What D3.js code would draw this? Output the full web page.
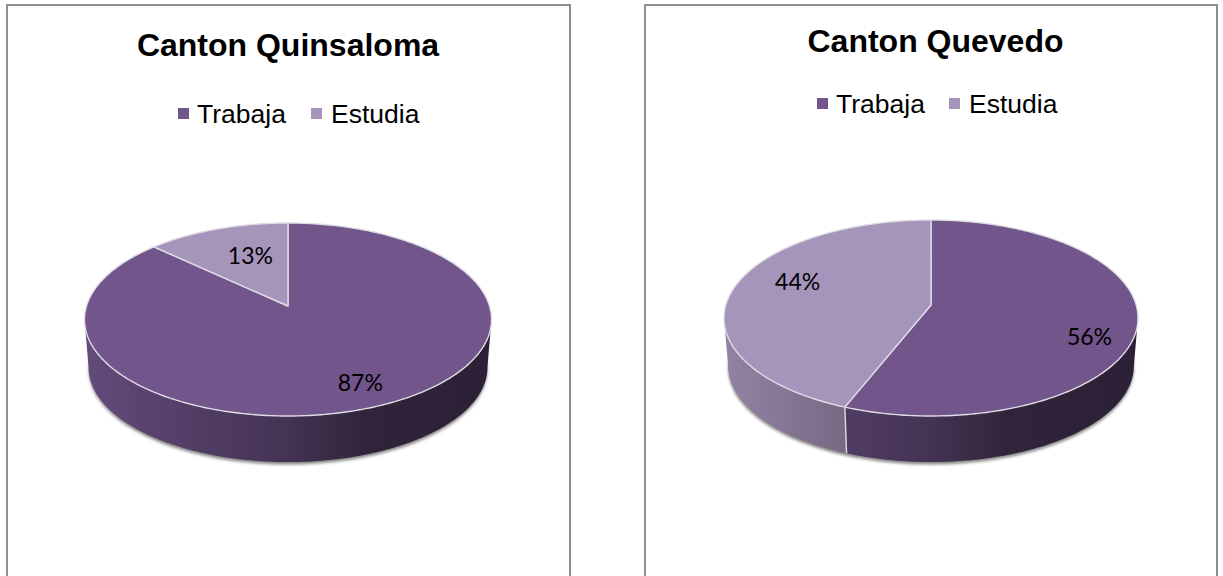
<!DOCTYPE html>
<html>
<head>
<meta charset="utf-8">
<script src="https://cdn.jsdelivr.net/npm/d3@7"></script>
<style>
html,body{margin:0;padding:0;background:#fff;overflow:hidden}
svg{display:block}
</style>
</head>
<body>
<svg id="chart" width="1223" height="576"></svg>
<script>
// Data
const categories = ["Trabaja", "Estudia"];
const cantons = ["Canton Quinsaloma", "Canton Quevedo"];
const quinsalomaValues = [87, 13];
const quevedoValues = [56, 44];
const seriesColors = ["#71558b", "#a695ba"];

// Layout (positions and styles only)
const layouts = [
  { frame:[7,5,563,590], titleX:288, titleY:56, legendY:114, markerX:[178,311], textX:[197,331],
    cx:288, cy:319.5, rx:203.5, ry:96.5, apexY:306, depth:48,
    labelShift:[[1,0],[7,-2]], labelR:[0.8,0.6] },
  { frame:[645,5,572,590], titleX:935.5, titleY:52, legendY:104, markerX:[817,949], textX:[836,969],
    cx:931, cy:318, rx:207, ry:98, apexY:305, depth:48,
    labelShift:[[-6,17],[15,-10]], labelR:[0.8,0.75] }
];
const shadeStops = [[0,.88],[.28,.72],[.5,.6],[.7,.42],[1,.38]];
const allValues = [quinsalomaValues, quevedoValues];

const svg = d3.select("#chart");
const defs = svg.append("defs");
defs.append("filter").attr("id","soft").attr("x","-10%").attr("y","-20%").attr("width","120%").attr("height","140%")
  .append("feGaussianBlur").attr("stdDeviation",1.8);

const pie = d3.pie().sort(null).startAngle(0).endAngle(2*Math.PI);
const line = d3.line().curve(d3.curveLinear);

function projector(L){
  const d = (L.cy - L.apexY)/L.ry, k = Math.sqrt(1-d*d);
  // disc automorphism: keeps the ellipse outline, moves pie centre to the apex
  return (theta, r=1, depth=0) => {
    const u = r*Math.sin(theta), v = -r*Math.cos(theta), w = 1 - d*v;
    const s = 1 - 0.02*depth/L.depth;
    return [L.cx + L.rx*s*k*u/w, L.cy + L.ry*s*(v-d)/w + depth];
  };
}
const samples = (a,b,n=Math.max(2,Math.ceil(Math.abs(b-a)*60))) => d3.range(n+1).map(i => a+(b-a)*i/n);

allValues.forEach((values,ci) => {
  const L = layouts[ci], P = projector(L);
  const g = svg.append("g");
  const arcs = pie(values);
  const d = (L.cy - L.apexY)/L.ry;
  const visA = Math.acos(-d), visB = 2*Math.PI - visA;

  // frame
  g.append("rect").attr("x",L.frame[0]).attr("y",L.frame[1]).attr("width",L.frame[2]).attr("height",L.frame[3])
    .attr("fill","#fff").attr("stroke","#8e8e8e").attr("stroke-width",2);

  // title
  g.append("text").attr("x",L.titleX).attr("y",L.titleY).attr("text-anchor","middle")
    .attr("font-family","'Liberation Sans',Arial,sans-serif").attr("font-weight","bold").attr("font-size",32)
    .attr("fill","#000").text(cantons[ci]);

  // legend
  categories.forEach((c,i) => {
    g.append("rect").attr("x",L.markerX[i]).attr("y",L.legendY-6).attr("width",11).attr("height",11).attr("fill",seriesColors[i]);
    g.append("text").attr("x",L.textX[i]).attr("y",L.legendY+9)
      .attr("font-family","'Liberation Sans',Arial,sans-serif").attr("font-size",26.5).attr("fill","#000").text(c);
  });

  // shadow below wall
  const ring = samples(0,2*Math.PI,180).map(t => P(t,1,L.depth+2.5));
  g.append("path").attr("d",line(ring)+"Z").attr("fill","#858585").attr("filter","url(#soft)");

  // walls
  arcs.forEach((a,i) => {
    const lo = Math.max(a.startAngle,visA), hi = Math.min(a.endAngle,visB);
    if (hi <= lo) return;
    const gid = `wall${ci}${i}`;
    const lg = defs.append("linearGradient").attr("id",gid).attr("gradientUnits","userSpaceOnUse")
      .attr("x1",L.cx-L.rx).attr("x2",L.cx+L.rx).attr("y1",0).attr("y2",0);
    const base = d3.rgb(seriesColors[i]);
    shadeStops.forEach(([o,s]) => lg.append("stop").attr("offset",o)
      .attr("stop-color",d3.rgb(base.r*s,base.g*s,base.b*s).formatHex()));
    const ts = samples(lo,hi);
    const pts = ts.map(t => P(t)).concat(ts.slice().reverse().map(t => P(t,1,L.depth)));
    g.append("path").attr("d",line(pts)+"Z").attr("fill",`url(#${gid})`);
  });
  // dividers visible on the wall
  arcs.forEach(a => {
    if (a.startAngle > visA && a.startAngle < visB) {
      g.append("path").attr("d",line([P(a.startAngle),P(a.startAngle,1,L.depth)]))
        .attr("stroke","#e0dce5").attr("stroke-width",1.4).attr("fill","none");
    }
  });

  // top slices
  arcs.forEach((a,i) => {
    const pts = [[L.cx,L.apexY]].concat(samples(a.startAngle,a.endAngle).map(t => P(t)));
    g.append("path").attr("d",line(pts)+"Z").attr("fill",seriesColors[i])
      .attr("stroke","#e0dce5").attr("stroke-width",1.4).attr("stroke-linejoin","round");
  });

  // value labels
  arcs.forEach((a,i) => {
    const p = P((a.startAngle+a.endAngle)/2, L.labelR[i]);
    g.append("text").attr("x",p[0]+L.labelShift[i][0]).attr("y",p[1]+L.labelShift[i][1]+8)
      .attr("text-anchor","middle").attr("font-family","Lato,'Open Sans',sans-serif").attr("font-size",23)
      .attr("fill","#000").text(a.value+"%");
  });
});
</script>
</body>
</html>
